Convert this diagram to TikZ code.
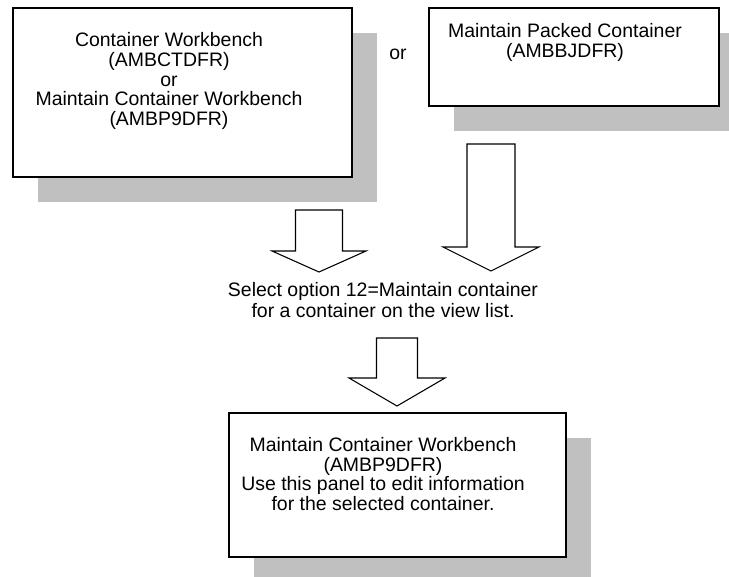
\documentclass[tikz,border=0pt]{standalone}
\usepackage{fontspec}
\setmainfont{Liberation Sans}
\usepackage{tikz}
\usetikzlibrary{shadows,calc,positioning}
\definecolor{shadowgray}{RGB}{192,192,192}
% hollow block arrow: top, tip, shaft half width, head half width, head length
\newcommand{\blockarrow}[5]{%
  \draw[blockarr] ($(#1)+(-#3,0)$) -- ($(#2)+(-#3,-#5)$) -- ($(#2)+(-#4,-#5)$)
    -- (#2) -- ($(#2)+(#4,-#5)$) -- ($(#2)+(#3,-#5)$) -- ($(#1)+(#3,0)$) -- cycle;}

\begin{document}
\begin{tikzpicture}[x=0.75pt, y=-0.75pt,
    panel/.style={rectangle, draw=black, line width=1.1pt, fill=white,
        drop shadow={shadow xshift=18.75pt, shadow yshift=-18.75pt,
            fill=shadowgray, opacity=1}},
    panelText/.style={align=center, font=\fontsize{14.6}{14.8}\selectfont},
    blockarr/.style={draw=black, line width=0.8pt, fill=white, line join=miter}
]
    \useasboundingbox (0,0) rectangle (729,576);
    \clip (0,0) rectangle (729,576);

    % panels
    \node[panel, minimum width=254.25pt, minimum height=126.75pt] (wb) at (182.5,92.5) {};
    \node[panel, minimum width=217.5pt, minimum height=73.5pt] (packed) at (574,57) {};
    \node[panel, minimum width=252.75pt, minimum height=108pt] (maint) at (397.5,485) {};

    \node[panelText] (wbText) at (169,81) {Container Workbench\\(AMBCTDFR)\\or\\Maintain Container Workbench\\(AMBP9DFR)};
    \node[panelText] (packedText) at (565,42.5) {Maintain Packed Container\\(AMBBJDFR)};
    \node[panelText] (maintText) at (383,474) {Maintain Container Workbench\\(AMBP9DFR)\\Use this panel to edit information\\for the selected container.};
    \node[panelText] (orText) at (398,54) {or};
    \node[panelText, font=\fontsize{14.6}{15.5}\selectfont] (select) at (383,300) {Select option 12=Maintain container\\for a container on the view list.};

    % block arrows
    \coordinate (a1top) at (319,210);
    \coordinate (a1tip) at (319,272);
    \coordinate (a2top) at (491,144);
    \coordinate (a2tip) at (491,271);
    \coordinate (a3top) at (397,338);
    \coordinate (a3tip) at (397,406);
    \blockarrow{a1top}{a1tip}{23.5}{47}{21}
    \blockarrow{a2top}{a2tip}{24}{48}{24}
    \blockarrow{a3top}{a3tip}{20.5}{48}{28}
\end{tikzpicture}
\end{document}
